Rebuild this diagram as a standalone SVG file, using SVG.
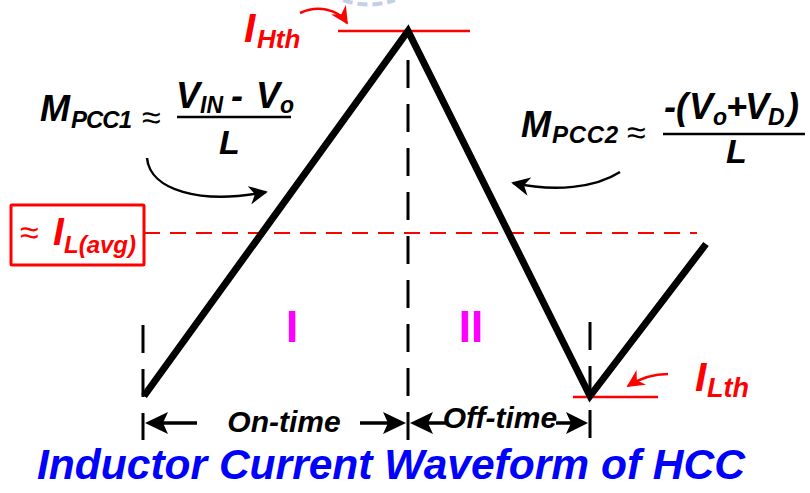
<svg xmlns="http://www.w3.org/2000/svg" width="810" height="493" viewBox="0 0 810 493">
<defs>
<style>
.t{font-family:"Liberation Sans",Arial,sans-serif;font-weight:bold;font-style:italic}
.r{font-family:"Liberation Sans",Arial,sans-serif;font-weight:normal}
.red{fill:#FF0000}
.blk{fill:#000}
.vd{stroke:#000;stroke-width:3;stroke-dasharray:28 16;fill:none}
.sh{stroke:#000;stroke-width:3.5}
</style>
<marker id="ahk" viewBox="0 0 10 10" refX="9" refY="5" markerWidth="7.5" markerHeight="7.5" orient="auto">
<path d="M0,0 L10,5 L0,10 L3,5 Z" fill="#000"/>
</marker>
<marker id="ahr" viewBox="0 0 10 10" refX="9" refY="5" markerWidth="7" markerHeight="7" orient="auto">
<path d="M0,0 L10,5 L0,10 L3,5 Z" fill="#FF0000"/>
</marker>
</defs>
<rect width="810" height="493" fill="#fff"/>
<path d="M343,0 Q368,9 395,0" fill="none" stroke="#C3CFE6" stroke-width="4" stroke-dasharray="10 5"/>

<g id="guides">
<line x1="143" y1="325" x2="143" y2="440" class="vd"/>
<line x1="408" y1="60" x2="408" y2="440" class="vd"/>
<line x1="590" y1="322" x2="590" y2="440" class="vd"/>
<line x1="144" y1="233" x2="697" y2="233" stroke="#FF0000" stroke-width="2" stroke-dasharray="16 10"/>
<line x1="338" y1="31" x2="470" y2="31" stroke="#FF0000" stroke-width="2.5"/>
<line x1="573" y1="397" x2="658" y2="397" stroke="#FF0000" stroke-width="2.5"/>
</g>

<g id="waveform">
<polyline points="144,396 408,31 590,396 706,244" fill="none" stroke="#000" stroke-width="7" stroke-linejoin="miter"/>
</g>

<g id="connectors">
<path d="M147,158 C150,190 200,205 266,192" fill="none" stroke="#000" stroke-width="2.5" marker-end="url(#ahk)"/>
<path d="M620,172 C595,188 555,192 513,183" fill="none" stroke="#000" stroke-width="2.5" marker-end="url(#ahk)"/>
<path d="M300,13 C318,5 338,9 347,23" fill="none" stroke="#FF0000" stroke-width="2.5" marker-end="url(#ahr)"/>
<path d="M668,374 C655,374 642,377 628,386" fill="none" stroke="#FF0000" stroke-width="2.5" marker-end="url(#ahr)"/>
<line x1="163" y1="423" x2="197" y2="423" class="sh"/>
<polygon points="145,423 168,412 163,423 168,434" fill="#000"/>
<line x1="360" y1="423" x2="388" y2="423" class="sh"/>
<polygon points="406,423 383,412 388,423 383,434" fill="#000"/>
<line x1="428" y1="423" x2="446" y2="423" class="sh"/>
<polygon points="410,423 433,412 428,423 433,434" fill="#000"/>
<line x1="556" y1="423" x2="571" y2="423" class="sh"/>
<polygon points="588,423 566,412 571,423 566,434" fill="#000"/>
</g>

<g id="label-ihth">
<text class="t red" x="244" y="42" font-size="41">I</text>
<text class="t red" x="257" y="48" font-size="26">Hth</text>
</g>

<g id="label-ilth">
<text class="t red" x="695" y="391" font-size="41">I</text>
<text class="t red" x="707" y="397" font-size="27">Lth</text>
</g>

<g id="label-ilavg">
<rect x="11" y="205" width="133" height="60" fill="#fff" stroke="#FF0000" stroke-width="3" rx="1"/>
<text class="r red" x="20" y="244" font-size="34">≈</text>
<text class="t red" x="53" y="245" font-size="39">I</text>
<text class="t red" x="64" y="253" font-size="24">L(avg)</text>
</g>

<g id="label-mpcc1">
<text class="t blk" x="40" y="121" font-size="36">M</text>
<text class="t blk" x="71" y="128" font-size="24" textLength="61">PCC1</text>
<text class="r blk" x="142" y="129" font-size="34">≈</text>
<text class="t blk" x="176" y="108" font-size="36">V</text>
<text class="t blk" x="200" y="113" font-size="23">IN</text>
<text class="t blk" x="231" y="108" font-size="36">-</text>
<text class="t blk" x="256" y="108" font-size="36">V</text>
<text class="t blk" x="280" y="113" font-size="23">o</text>
<line x1="177" y1="117" x2="291" y2="117" stroke="#000" stroke-width="2.5"/>
<text class="t blk" x="219" y="154" font-size="34">L</text>
</g>

<g id="label-mpcc2">
<text class="t blk" x="521" y="137" font-size="36">M</text>
<text class="t blk" x="552" y="143" font-size="24" textLength="66">PCC2</text>
<text class="r blk" x="627" y="144" font-size="34">≈</text>
<text class="t blk" x="664" y="119" font-size="36">-(</text>
<text class="t blk" x="689" y="119" font-size="36">V</text>
<text class="t blk" x="713" y="125" font-size="23">o</text>
<text class="t blk" x="726" y="119" font-size="36">+</text>
<text class="t blk" x="745" y="119" font-size="36">V</text>
<text class="t blk" x="768" y="125" font-size="23">D</text>
<text class="t blk" x="787" y="119" font-size="36">)</text>
<line x1="663" y1="134" x2="805" y2="134" stroke="#000" stroke-width="2.5"/>
<text class="t blk" x="726" y="163" font-size="34">L</text>
</g>

<g id="region-labels">
<text x="292" y="342" font-family="Liberation Sans,Arial,sans-serif" font-weight="bold" font-size="44" fill="#FF00FF" text-anchor="middle">I</text>
<text x="471" y="342" font-family="Liberation Sans,Arial,sans-serif" font-weight="bold" font-size="44" fill="#FF00FF" text-anchor="middle">II</text>
</g>

<g id="time-labels">
<text class="t blk" x="284" y="432" font-size="30" text-anchor="middle">On-time</text>
<text class="t blk" x="500" y="428" font-size="30" text-anchor="middle">Off-time</text>
</g>

<g id="title">
<text x="37" y="479" font-family="Liberation Sans,Arial,sans-serif" font-weight="bold" font-style="italic" font-size="43" fill="#0000FF" textLength="708" lengthAdjust="spacingAndGlyphs">Inductor Current Waveform of HCC</text>
</g>
</svg>
